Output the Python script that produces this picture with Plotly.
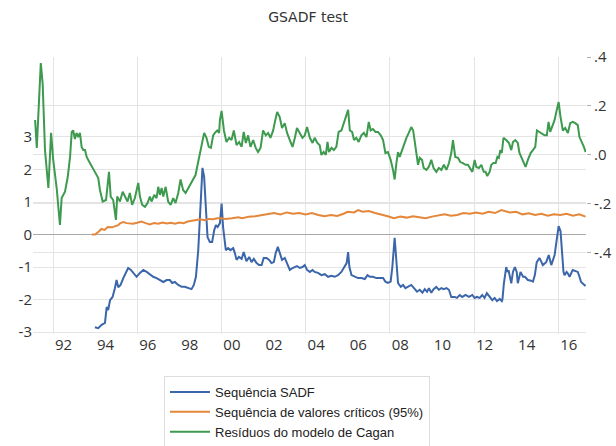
import plotly.graph_objects as go

# ---------------- data ----------------
sadf_t = [1993.99, 1994.15, 1994.31, 1994.47, 1994.55, 1994.62, 1994.71, 1994.83, 1994.94, 1995.02,
          1995.10, 1995.21, 1995.34, 1995.46, 1995.57, 1995.70, 1995.81, 1995.97, 1996.13, 1996.29,
          1996.45, 1996.60, 1996.76, 1996.92, 1997.08, 1997.24, 1997.40, 1997.55, 1997.66, 1997.79,
          1997.95, 1998.11, 1998.26, 1998.42, 1998.58, 1998.69, 1998.79, 1998.90, 1998.99, 1999.10,
          1999.18, 1999.26, 1999.34, 1999.45, 1999.56, 1999.66, 1999.74, 1999.82, 1999.93, 2000.01,
          2000.08, 2000.21, 2000.32, 2000.43, 2000.56, 2000.64, 2000.72, 2000.83, 2000.96, 2001.06,
          2001.19, 2001.32, 2001.43, 2001.54, 2001.67, 2001.79, 2001.91, 2002.01, 2002.14, 2002.27,
          2002.38, 2002.49, 2002.58, 2002.68, 2002.77, 2002.88, 2003.01, 2003.12, 2003.25, 2003.38,
          2003.49, 2003.59, 2003.72, 2003.85, 2003.96, 2004.07, 2004.20, 2004.33, 2004.43, 2004.59,
          2004.75, 2004.91, 2005.07, 2005.23, 2005.38, 2005.54, 2005.70, 2005.86, 2005.95, 2006.02,
          2006.08, 2006.18, 2006.33, 2006.49, 2006.65, 2006.81, 2006.94, 2007.05, 2007.20, 2007.36,
          2007.52, 2007.68, 2007.79, 2007.91, 2008.04, 2008.12, 2008.23, 2008.31, 2008.39, 2008.52,
          2008.63, 2008.74, 2008.86, 2009.02, 2009.15, 2009.29, 2009.42, 2009.55, 2009.66, 2009.77,
          2009.86, 2009.97, 2010.08, 2010.21, 2010.33, 2010.45, 2010.56, 2010.69, 2010.81, 2010.92,
          2011.08, 2011.19, 2011.32, 2011.44, 2011.60, 2011.76, 2011.92, 2012.03, 2012.14, 2012.27,
          2012.39, 2012.50, 2012.61, 2012.74, 2012.87, 2012.98, 2013.09, 2013.22, 2013.32, 2013.35,
          2013.42, 2013.53, 2013.59, 2013.64, 2013.77, 2013.85, 2013.94, 2014.03, 2014.08, 2014.21,
          2014.33, 2014.42, 2014.56, 2014.71, 2014.80, 2014.89, 2014.98, 2015.11, 2015.21, 2015.27,
          2015.43, 2015.55, 2015.67, 2015.83, 2015.92, 2016.02, 2016.11, 2016.19, 2016.25, 2016.30,
          2016.40, 2016.46, 2016.54, 2016.69, 2016.85, 2016.93, 2017.01, 2017.08, 2017.19, 2017.30]
sadf_v = [-2.85, -2.88, -2.78, -2.72, -2.23, -2.32, -2.02, -1.92, -1.65, -1.40,
          -1.62, -1.55, -1.34, -1.15, -1.03, -1.09, -1.18, -1.30, -1.18, -1.09,
          -1.15, -1.22, -1.30, -1.34, -1.40, -1.46, -1.40, -1.40, -1.49, -1.46,
          -1.55, -1.61, -1.61, -1.65, -1.68, -1.55, -1.30, -0.48, 0.85, 2.05,
          1.77, 0.97, -0.08, -0.23, -0.23, 0.14, 0.29, 0.23, 0.35, 0.95,
          0.23, -0.48, -0.42, -0.48, -0.42, -0.57, -0.78, -0.69, -0.75, -0.54,
          -0.82, -0.69, -0.85, -0.75, -0.88, -0.94, -0.94, -0.72, -0.72, -0.78,
          -0.88, -0.85, -0.57, -0.38, -0.57, -0.78, -0.72, -0.88, -1.09, -1.03,
          -1.00, -0.97, -1.03, -1.00, -0.94, -1.09, -1.15, -1.09, -1.15, -1.18,
          -1.25, -1.22, -1.30, -1.27, -1.30, -1.25, -1.15, -1.00, -0.88, -0.54,
          -1.00, -1.25, -1.30, -1.34, -1.34, -1.37, -1.25, -1.30, -1.30, -1.34,
          -1.34, -1.34, -1.45, -1.49, -1.45, -1.00, -0.10, -0.88, -1.49, -1.61,
          -1.55, -1.65, -1.61, -1.55, -1.65, -1.76, -1.70, -1.79, -1.68, -1.76,
          -1.65, -1.79, -1.68, -1.61, -1.70, -1.65, -1.68, -1.65, -1.70, -1.92,
          -1.92, -1.95, -1.86, -1.92, -1.86, -1.92, -1.86, -1.95, -1.92, -1.95,
          -1.86, -1.95, -1.80, -1.92, -2.02, -1.95, -2.05, -1.98, -2.05, -2.00,
          -1.50, -1.00, -1.15, -1.10, -1.50, -1.15, -1.00, -1.15, -1.50, -1.15,
          -1.30, -1.30, -1.40, -1.42, -1.45, -1.25, -0.85, -0.72, -0.85, -0.94,
          -0.85, -0.63, -0.94, -0.63, -0.20, 0.26, 0.10, -0.60, -1.15, -1.25,
          -1.15, -1.20, -1.30, -1.09, -1.12, -1.15, -1.30, -1.45, -1.52, -1.58]

crit_t = [1993.85, 1994.00, 1994.15, 1994.30, 1994.45, 1994.60, 1994.80, 1995.00, 1995.10, 1995.20,
          1995.35, 1995.50, 1995.65, 1995.80, 1996.00, 1996.20, 1996.40, 1996.60, 1996.80, 1997.00,
          1997.20, 1997.40, 1997.60, 1997.80, 1998.00, 1998.20, 1998.40, 1998.60, 1998.80, 1999.00,
          1999.20, 1999.40, 1999.60, 1999.80, 2000.00, 2000.20, 2000.50, 2000.80, 2001.00, 2001.30,
          2001.60, 2001.90, 2002.20, 2002.50, 2002.80, 2003.10, 2003.40, 2003.70, 2004.00, 2004.30,
          2004.60, 2004.90, 2005.20, 2005.50, 2005.80, 2006.00, 2006.30, 2006.50, 2006.70, 2007.00,
          2007.30, 2007.60, 2007.90, 2008.20, 2008.50, 2008.80, 2009.10, 2009.40, 2009.70, 2010.00,
          2010.30, 2010.60, 2010.90, 2011.20, 2011.50, 2011.80, 2012.10, 2012.40, 2012.70, 2013.00,
          2013.30, 2013.50, 2013.70, 2014.00, 2014.30, 2014.60, 2014.90, 2015.20, 2015.50, 2015.80,
          2016.10, 2016.40, 2016.70, 2017.00, 2017.30]
crit_v = [0.00, 0.00, 0.08, 0.17, 0.14, 0.23, 0.22, 0.26, 0.29, 0.35,
          0.38, 0.35, 0.35, 0.33, 0.36, 0.40, 0.35, 0.31, 0.35, 0.33,
          0.37, 0.34, 0.36, 0.33, 0.37, 0.35, 0.40, 0.43, 0.45, 0.47,
          0.44, 0.48, 0.47, 0.50, 0.50, 0.48, 0.50, 0.53, 0.50, 0.55,
          0.56, 0.60, 0.63, 0.66, 0.62, 0.68, 0.64, 0.66, 0.62, 0.66,
          0.60, 0.56, 0.60, 0.57, 0.64, 0.70, 0.68, 0.75, 0.70, 0.72,
          0.66, 0.62, 0.56, 0.50, 0.55, 0.52, 0.56, 0.53, 0.50, 0.55,
          0.58, 0.62, 0.58, 0.60, 0.66, 0.64, 0.68, 0.64, 0.70, 0.66,
          0.75, 0.72, 0.68, 0.70, 0.62, 0.65, 0.60, 0.64, 0.58, 0.62,
          0.60, 0.64, 0.58, 0.62, 0.55]

resid_t = [1991.15, 1991.23, 1991.42, 1991.51, 1991.62, 1991.78, 1991.91, 1992.01, 1992.18, 1992.33,
           1992.41, 1992.57, 1992.70, 1992.81, 1992.89, 1992.96, 1993.04, 1993.12, 1993.20, 1993.28,
           1993.36, 1993.44, 1993.52, 1993.60, 1993.72, 1993.84, 1993.99, 1994.15, 1994.23, 1994.36,
           1994.52, 1994.66, 1994.74, 1994.86, 1994.99, 1995.05, 1995.18, 1995.31, 1995.42, 1995.54,
           1995.65, 1995.76, 1995.89, 1995.97, 1996.05, 1996.13, 1996.24, 1996.37, 1996.49, 1996.60,
           1996.68, 1996.81, 1996.92, 1997.00, 1997.08, 1997.16, 1997.24, 1997.35, 1997.47, 1997.59,
           1997.71, 1997.82, 1997.95, 1998.06, 1998.18, 1998.30, 1998.42, 1998.55, 1998.66, 1998.77,
           1998.87, 1998.98, 1999.09, 1999.18, 1999.29, 1999.40, 1999.50, 1999.61, 1999.69, 1999.80,
           1999.89, 1999.93, 2000.01, 2000.12, 2000.24, 2000.37, 2000.48, 2000.59, 2000.72, 2000.84,
           2000.96, 2001.06, 2001.16, 2001.27, 2001.38, 2001.51, 2001.63, 2001.74, 2001.86, 2001.98,
           2002.11, 2002.22, 2002.33, 2002.46, 2002.54, 2002.65, 2002.77, 2002.88, 2003.01, 2003.12,
           2003.25, 2003.38, 2003.49, 2003.59, 2003.72, 2003.85, 2003.96, 2004.07, 2004.20, 2004.33,
           2004.43, 2004.55, 2004.67, 2004.75, 2004.86, 2004.96, 2005.04, 2005.11, 2005.23, 2005.34,
           2005.46, 2005.57, 2005.70, 2005.83, 2005.94, 2006.02, 2006.10, 2006.21, 2006.30, 2006.41,
           2006.52, 2006.65, 2006.77, 2006.89, 2007.00, 2007.09, 2007.20, 2007.32, 2007.44, 2007.57,
           2007.68, 2007.79, 2007.91, 2008.04, 2008.15, 2008.23, 2008.31, 2008.39, 2008.47, 2008.58,
           2008.67, 2008.79, 2008.90, 2009.02, 2009.11, 2009.18, 2009.26, 2009.34, 2009.42, 2009.53,
           2009.61, 2009.74, 2009.85, 2009.97, 2010.08, 2010.21, 2010.33, 2010.45, 2010.57, 2010.69,
           2010.81, 2010.92, 2011.00, 2011.11, 2011.24, 2011.35, 2011.47, 2011.60, 2011.71, 2011.82,
           2011.92, 2012.03, 2012.11, 2012.23, 2012.35, 2012.46, 2012.55, 2012.63, 2012.74, 2012.82,
           2012.93, 2013.03, 2013.11, 2013.18, 2013.25, 2013.32, 2013.40, 2013.53, 2013.66, 2013.77,
           2013.85, 2013.96, 2014.08, 2014.16, 2014.27, 2014.37, 2014.45, 2014.56, 2014.69, 2014.80,
           2014.91, 2014.99, 2015.11, 2015.22, 2015.35, 2015.46, 2015.54, 2015.62, 2015.70, 2015.83,
           2015.91, 2016.02, 2016.11, 2016.22, 2016.33, 2016.46, 2016.57, 2016.69, 2016.81, 2016.93,
           2017.01, 2017.12, 2017.22, 2017.30]
resid_v = [0.143, 0.029, 0.375, 0.290, 0.020, -0.135, 0.090, -0.020, -0.140, -0.286,
           -0.176, -0.150, -0.090, -0.008, 0.094, 0.100, 0.065, 0.090, 0.073, 0.090,
           0.033, 0.020, 0.020, -0.008, -0.028, -0.049, -0.069, -0.094, -0.143, -0.190,
           -0.184, -0.069, -0.170, -0.184, -0.265, -0.170, -0.190, -0.150, -0.170, -0.190,
           -0.155, -0.204, -0.176, -0.150, -0.114, -0.170, -0.204, -0.212, -0.196, -0.170,
           -0.190, -0.163, -0.176, -0.130, -0.163, -0.135, -0.170, -0.130, -0.190, -0.204,
           -0.176, -0.196, -0.155, -0.100, -0.143, -0.155, -0.135, -0.114, -0.094, -0.082,
           -0.040, 0.008, 0.061, 0.090, 0.070, 0.033, 0.029, 0.080, 0.090, 0.100,
           0.090, 0.143, 0.180, 0.100, 0.053, 0.070, 0.061, 0.100, 0.040, 0.053,
           0.033, 0.094, 0.049, 0.080, 0.033, 0.061, 0.029, 0.012, 0.029, 0.100,
           0.080, 0.090, 0.070, 0.100, 0.135, 0.176, 0.155, 0.110, 0.130, 0.090,
           0.061, 0.033, 0.070, 0.110, 0.090, 0.070, 0.080, 0.114, 0.070, 0.049,
           0.070, 0.050, 0.040, 0.000, 0.012, 0.000, 0.053, 0.012, 0.029, 0.020,
           0.033, 0.094, 0.100, 0.135, 0.155, 0.184, 0.100, 0.094, 0.061, 0.070,
           0.053, 0.080, 0.090, 0.073, 0.135, 0.100, 0.106, 0.094, 0.094, 0.080,
           0.061, 0.008, 0.012, -0.020, -0.060, -0.100, -0.035, 0.012, -0.008, 0.020,
           0.040, 0.070, 0.090, 0.114, 0.100, 0.061, 0.000, -0.040, -0.012, -0.020,
           -0.053, -0.061, -0.049, -0.020, -0.053, -0.069, -0.053, -0.061, -0.040, -0.061,
           -0.033, 0.008, 0.061, -0.008, -0.012, -0.029, -0.033, -0.040, -0.040, -0.053,
           -0.069, -0.020, -0.049, -0.053, -0.040, -0.069, -0.069, -0.086, -0.069, -0.040,
           -0.033, -0.033, -0.008, -0.012, 0.020, 0.008, 0.070, 0.061, 0.049, 0.020,
           0.053, 0.061, 0.049, 0.008, -0.012, -0.033, -0.049, -0.020, 0.008, 0.020,
           0.033, 0.100, 0.094, 0.090, 0.080, 0.080, 0.135, 0.094, 0.114, 0.143,
           0.176, 0.216, 0.155, 0.100, 0.110, 0.090, 0.130, 0.135, 0.130, 0.122,
           0.073, 0.053, 0.033, 0.012]

x_tick_vals = [1992.5 + 2 * i for i in range(13)]
x_tick_text = ["92", "94", "96", "98", "00", "02", "04", "06", "08", "10", "12", "14", "16"]
x_grid_vals = [1992, 1996, 2000, 2004, 2008, 2012, 2016]
left_tick_vals = [-3, -2, -1, 0, 1, 2, 3]
left_tick_text = ["-3", "-2", "-1", "0", "1", "2", "3"]
right_tick_vals = [-0.4, -0.2, 0.0, 0.2, 0.4]
right_tick_text = ["-.4", "-.2", ".0", ".2", ".4"]

names = ["Sequência SADF", "Sequência de valores críticos (95%)", "Resíduos do modelo de Cagan"]
colors = ["#3c66aa", "#e4873a", "#3d9a4e"]

# ---------------- figure ----------------
fig = go.Figure()
fig.add_trace(go.Scatter(x=sadf_t, y=sadf_v, mode="lines", name=names[0],
                         line=dict(color=colors[0], width=2), yaxis="y"))
fig.add_trace(go.Scatter(x=crit_t, y=crit_v, mode="lines", name=names[1],
                         line=dict(color=colors[1], width=2), yaxis="y"))
fig.add_trace(go.Scatter(x=resid_t, y=resid_v, mode="lines", name=names[2],
                         line=dict(color=colors[2], width=2), yaxis="y2"))

grid = "#e4e4e4"
tickfont = dict(family="Open Sans", size=15, color="#333333")

fig.update_layout(
    width=616, height=446,
    margin=dict(l=33, r=30, t=57, b=112, autoexpand=False),
    paper_bgcolor="white", plot_bgcolor="white",
    title=dict(text="GSADF test", x=0.5, xanchor="center", y=1 - 17 / 446, yanchor="middle",
               yref="container", font=dict(family="DejaVu Sans", size=14, color="#333333")),
    xaxis=dict(range=[1991.05, 2017.32], tickmode="array", tickvals=x_tick_vals,
               ticktext=x_tick_text, showgrid=False, ticks="", zeroline=False,
               showline=False, tickfont=tickfont, automargin=False,
               minor=dict(tickmode="array", tickvals=x_grid_vals, showgrid=True,
                          gridcolor=grid, gridwidth=1, ticks="")),
    yaxis=dict(range=[-3.06, 5.46], tickmode="array", tickvals=left_tick_vals,
               ticktext=left_tick_text, showgrid=True, gridcolor=grid, zeroline=True,
               zerolinecolor="#a8a8a8", zerolinewidth=1, ticks="", showline=False,
               tickfont=tickfont, automargin=False),
    yaxis2=dict(range=[-0.731, 0.400], overlaying="y", side="right", tickmode="array",
                tickvals=right_tick_vals, ticktext=right_tick_text, showgrid=True,
                gridcolor=grid, zeroline=False, ticks="outside", ticklen=4,
                tickcolor="#b0b0b0", showline=False, tickfont=tickfont, automargin=False),
    legend=dict(x=(164 - 33) / 553, y=(334 - 376) / 277, xanchor="left", yanchor="top",
                bordercolor="#dddddd", borderwidth=1, bgcolor="white",
                font=dict(family="Liberation Sans", size=13, color="#222222"),
                tracegroupgap=0, itemwidth=40),
    showlegend=True,
)

fig.write_html("out.html")
